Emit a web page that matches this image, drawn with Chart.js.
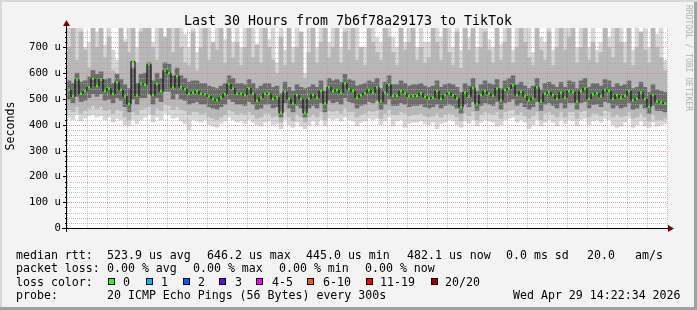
<!DOCTYPE html>
<html><head><meta charset="utf-8">
<script src="https://cdn.jsdelivr.net/npm/chart.js@4/dist/chart.umd.min.js"></script>
<style>html,body{margin:0;padding:0;background:#f3f3f3;}canvas{display:block;}</style>
</head><body>
<canvas id="c" width="697" height="310"></canvas>
<script>
const chartTitle = 'Last 30 Hours from 7b6f78a29173 to TikTok';
const yAxisTitle = 'Seconds';
const startHour = 8.4333;   // Tue 08:26
const endHour = 38.4333;    // Wed 14:26
const stepHours = 0.2;      // one slot per 12 minutes
const yMax = 775;
const yLabelValues = [0, 100, 200, 300, 400, 500, 600, 700];
const yLabelTexts = ['0', '100 u', '200 u', '300 u', '400 u', '500 u', '600 u', '700 u'];
const xLabelHours = [12, 18, 24, 30, 36];
const xLabelTexts = ['Tue 12:00', 'Tue 18:00', 'Wed 00:00', 'Wed 06:00', 'Wed 12:00'];

// median rtt (microseconds)
const median = [
535,510,575,520,530,545,578,550,575,531,
540,519,565,535,510,480,645,513,560,555,
634,515,558,530,610,600,545,588,545,538,
520,525,530,520,518,510,500,495,505,518,
558,540,520,520,515,540,520,492,505,520,
520,500,506,447,528,500,482,515,500,447,
500,516,505,530,482,545,530,535,525,560,
538,530,505,515,522,535,525,545,490,525,
555,512,512,530,523,510,512,512,522,508,
502,505,530,500,515,523,514,502,469,525,
510,543,480,515,530,520,512,540,495,535,
540,553,515,528,511,495,504,545,490,520,
527,515,500,525,505,530,527,490,530,540,
500,518,522,510,535,530,500,515,505,512,
530,495,500,525,500,470,515,490,487,482];

// dark smoke (pings close to the median)
const darkLow = [
500,485,510,490,495,505,520,510,520,495,
500,485,505,495,470,450,500,480,505,505,
520,480,505,490,530,530,500,520,500,495,
480,485,490,480,480,470,465,460,470,480,
500,490,480,480,475,490,480,460,465,480,
480,465,470,430,485,465,450,475,465,430,
465,475,465,485,450,495,485,490,480,505,
490,485,465,475,480,490,485,495,460,480,
500,475,475,485,480,470,475,475,480,470,
465,470,480,465,475,480,475,465,445,480,
470,490,455,475,485,480,475,490,460,485,
490,500,475,485,470,460,470,490,455,480,
485,475,465,485,465,485,485,460,485,490,
465,478,480,470,490,485,465,475,465,470,
485,460,465,480,465,445,475,455,455,450];
const darkHigh = [
570,560,600,565,570,585,610,595,605,575,
580,560,595,575,555,540,620,560,595,600,
640,570,600,580,640,635,590,620,590,580,
565,570,570,560,560,550,545,540,550,560,
590,580,560,560,555,575,560,540,550,560,
560,545,550,520,565,545,530,555,545,540,
545,555,545,570,530,580,570,575,565,595,
575,570,550,555,560,570,565,580,540,565,
590,555,555,570,560,550,555,555,560,550,
545,550,570,545,555,560,555,545,525,560,
550,580,530,555,570,560,555,575,540,570,
580,590,555,565,550,540,550,580,535,560,
565,555,545,565,545,570,565,540,570,580,
545,560,560,550,575,570,545,560,550,555,
570,540,545,565,545,525,555,535,530,525];

// medium smoke
const midLow = [
460,450,470,445,455,465,475,465,470,455,
460,445,460,455,430,420,450,440,460,465,
470,440,465,455,480,475,460,470,460,455,
440,450,450,440,445,430,425,420,430,440,
460,450,440,445,440,450,440,425,430,445,
445,430,435,410,450,430,415,440,430,410,
430,440,430,450,420,455,450,455,445,465,
450,450,430,440,445,455,450,455,425,445,
460,440,440,450,445,435,440,440,445,435,
430,435,445,430,440,445,440,430,415,445,
435,450,420,440,450,445,440,450,425,450,
455,460,440,450,435,425,435,450,420,445,
450,440,430,450,430,450,450,425,450,455,
430,445,445,435,455,450,430,440,430,435,
450,425,430,445,430,415,440,420,420,425];
const midHigh = [
700,790,650,760,690,620,790,700,790,660,
740,610,600,790,720,680,790,640,760,790,
790,700,650,790,740,790,680,790,700,640,
630,760,610,700,790,650,720,690,790,640,
790,660,720,630,700,790,660,710,640,790,
700,650,600,740,630,790,640,700,760,580,
680,790,640,720,790,660,700,790,640,760,
690,790,650,700,630,790,720,680,650,790,
740,680,630,790,690,720,790,650,700,640,
660,790,720,650,790,680,630,760,620,790,
690,790,640,700,760,690,640,790,650,720,
790,640,700,790,720,660,630,790,690,650,
760,630,700,790,690,740,790,640,700,790,
650,720,640,680,790,700,660,790,720,640,
790,630,700,760,690,640,790,700,660,610];

// light smoke (outermost pings)
const lightLow = [
430,420,440,415,425,435,440,430,435,420,
430,410,425,420,400,395,420,405,420,430,
440,410,430,420,445,440,425,430,415,405,
380,420,415,410,420,400,395,390,405,415,
430,420,410,415,405,420,410,400,395,410,
415,400,405,385,420,400,390,410,395,385,
400,415,400,420,395,425,420,425,415,430,
420,415,395,410,415,425,420,425,400,415,
430,395,415,420,390,405,410,410,415,405,
400,410,385,405,410,420,415,400,390,415,
405,420,395,410,420,415,410,395,400,420,
425,430,410,420,410,385,400,420,395,410,
420,410,395,420,405,420,415,395,420,425,
400,415,420,410,425,420,400,390,395,410,
425,390,400,415,395,390,410,395,400,405];
const lightHigh = [
790,740,790,790,700,720,790,760,790,710,
790,690,650,790,730,790,790,700,790,760,
790,720,790,790,740,790,790,700,790,750,
700,790,680,790,740,790,710,790,790,730,
790,720,790,700,790,750,790,710,790,790,
730,790,640,790,690,790,700,790,740,600,
790,740,700,790,790,720,790,790,700,790,
790,730,790,700,700,790,790,740,720,790,
790,740,700,790,720,790,790,700,790,720,
720,790,790,740,790,790,700,790,690,790,
740,790,700,790,790,730,700,790,710,790,
790,690,790,750,790,790,680,790,740,720,
790,690,790,740,790,790,720,700,790,790,
700,790,690,720,790,740,790,720,790,720,
790,690,790,740,790,700,790,750,790,650];

const legendRows = [
  [['median rtt:',16],['523.9 us avg',107],['646.2 us max',207],['445.0 us min',306],['482.1 us now',407],['0.0 ms sd',506],['20.0',587],['am/s',635]],
  [['packet loss:',16],['0.00 % avg',107],['0.00 % max',193],['0.00 % min',279],['0.00 % now',365]],
  [['loss color:',16]],
  [['probe:',16],['20 ICMP Echo Pings (56 Bytes) every 300s',107],['Wed Apr 29 14:22:34 2026',513]]
];
const lossLabels = ['0','1','2','3','4-5','6-10','11-19','20/20'];
const lossColors = ['#26ff00','#00b8ff','#0059ff','#6a00ff','#ff00ff','#ff5500','#ff0000','#a10000'];
const lossBoxX = [108,146,183,219,256,307,366,431];
const lossTextX = [123,161,198,235,272,323,380,445];

const slotHours = median.map((_, i) => startHour + stepHours * (i + 0.5));
const pts = arr => slotHours.map((h, i) => ({x: h, y: arr[i]}));
const band = (lo, hi, color, order) => ({
  type: 'bar', data: slotHours.map((h, i) => ({x: h, y: [lo[i], hi[i]]})),
  backgroundColor: color, borderWidth: 0, grouped: false, clip: 0,
  barThickness: 4, order
});

const MONO = '"DejaVu Sans Mono", monospace';

const rrdPlugin = {
  id: 'rrd',
  beforeDatasetsDraw(chart) {
    const {ctx, chartArea: a} = chart;
    ctx.save(); ctx.fillStyle = '#ffffff';
    ctx.fillRect(a.left, a.top, a.right - a.left, a.bottom - a.top);
    ctx.restore();
  },
  afterDatasetDraw(chart, args) {
    if (args.index !== 2) return; // after the darkest smoke, draw the grid
    const {ctx, chartArea: a, scales: {x, y}} = chart;
    ctx.save();
    ctx.lineWidth = 1;
    ctx.setLineDash([1, 1]);
    const vlines = (major) => x.ticks.forEach(t => {
      const isMajor = Math.abs(t.value / 3 - Math.round(t.value / 3)) < 1e-6;
      if (isMajor !== major) return;
      const px = Math.round(x.getPixelForValue(t.value)) + 0.5;
      ctx.beginPath(); ctx.moveTo(px, a.bottom); ctx.lineTo(px, a.top); ctx.stroke();
    });
    const hlines = (major) => y.ticks.forEach(t => {
      const isMajor = Math.abs(t.value / 100 - Math.round(t.value / 100)) < 1e-6;
      if (isMajor !== major || t.value === 0) return;
      const py = Math.round(y.getPixelForValue(t.value)) + 0.5;
      ctx.beginPath(); ctx.moveTo(a.left, py); ctx.lineTo(a.right, py); ctx.stroke();
    });
    ctx.strokeStyle = 'rgba(170,170,170,0.75)';
    vlines(false); hlines(false);
    ctx.strokeStyle = 'rgba(240,110,110,0.75)';
    vlines(true); hlines(true);
    ctx.restore();
  },
  afterDraw(chart) {
    const {ctx, chartArea: a, scales: {y}} = chart;
    ctx.save();
    // axes
    ctx.strokeStyle = '#000'; ctx.lineWidth = 1; ctx.setLineDash([]);
    ctx.beginPath(); ctx.moveTo(62, a.bottom + 0.5); ctx.lineTo(a.right + 2, a.bottom + 0.5); ctx.stroke();
    ctx.beginPath(); ctx.moveTo(a.left - 0.5, a.bottom + 4); ctx.lineTo(a.left - 0.5, a.top - 3); ctx.stroke();
    y.ticks.forEach(t => {
      const major = Math.abs(t.value / 100 - Math.round(t.value / 100)) < 1e-6;
      const py = Math.round(y.getPixelForValue(t.value)) + 0.5;
      ctx.beginPath(); ctx.moveTo(a.left - (major ? 4 : 2), py); ctx.lineTo(a.left, py); ctx.stroke();
    });
    ctx.fillStyle = '#800000';
    ctx.beginPath(); ctx.moveTo(a.left - 4, a.top - 2); ctx.lineTo(a.left + 3, a.top - 2); ctx.lineTo(a.left - 0.5, a.top - 8); ctx.closePath(); ctx.fill();
    ctx.beginPath(); ctx.moveTo(a.right + 1, a.bottom - 3); ctx.lineTo(a.right + 1, a.bottom + 4); ctx.lineTo(a.right + 7, a.bottom + 0.5); ctx.closePath(); ctx.fill();

    // y tick labels (from the y scale)
    ctx.fillStyle = '#000';
    ctx.font = '10.6px ' + MONO; ctx.textAlign = 'right'; ctx.textBaseline = 'middle';
    yLabelValues.forEach((v, i) => ctx.fillText(yLabelTexts[i], 61, Math.round(y.getPixelForValue(v)) + 0.5));

    // title
    ctx.font = '13.3px ' + MONO; ctx.textAlign = 'center'; ctx.textBaseline = 'alphabetic';
    ctx.fillText(chartTitle, 348, 25);
    // y title
    ctx.save(); ctx.translate(11, 126); ctx.rotate(-Math.PI / 2);
    ctx.font = '11.6px ' + MONO; ctx.textAlign = 'center'; ctx.textBaseline = 'middle';
    ctx.fillText(yAxisTitle, 0, 0); ctx.restore();
    // side credit
    ctx.save(); ctx.translate(688, 5); ctx.rotate(Math.PI / 2);
    ctx.font = '8px ' + MONO; ctx.textAlign = 'left'; ctx.textBaseline = 'middle'; ctx.fillStyle = '#b0b0b0';
    ctx.fillText('RRDTOOL / TOBI OETIKER', 0, 0); ctx.restore();
    // legend
    ctx.font = '11.6px ' + MONO; ctx.textAlign = 'left'; ctx.textBaseline = 'alphabetic'; ctx.fillStyle = '#000';
    const baselines = [258.5, 272, 285.7, 299.3];
    legendRows.forEach((row, r) => row.forEach(([s, x]) => ctx.fillText(s, x, baselines[r])));
    lossLabels.forEach((lab, i) => {
      ctx.fillStyle = lossColors[i];
      ctx.fillRect(lossBoxX[i], 278, 7, 7);
      ctx.strokeStyle = '#000'; ctx.lineWidth = 1;
      ctx.strokeRect(lossBoxX[i] + 0.5, 278.5, 6, 6);
      ctx.fillStyle = '#000';
      ctx.fillText(lab, lossTextX[i], baselines[2]);
    });
    // frame
    ctx.fillStyle = '#a0a0a0';
    ctx.fillRect(0, 307, 697, 3); ctx.fillRect(694, 0, 3, 310);
    ctx.fillStyle = '#d8d8d8';
    ctx.fillRect(0, 0, 697, 2); ctx.fillRect(0, 0, 2, 307);
    ctx.restore();
  }
};

new Chart(document.getElementById('c'), {
  type: 'bar',
  data: {
    datasets: [
      {type: 'line', data: pts(median), showLine: false, pointStyle: 'rect', pointRadius: 1.7, pointBackgroundColor: '#33ff00', pointBorderWidth: 0, order: 1},
      {type: 'line', data: pts(median), stepped: 'middle', borderColor: '#000', borderWidth: 1, pointRadius: 0, order: 2},
      band(darkLow, darkHigh, '#6c6c6c', 3),
      band(midLow, midHigh, '#b8b8b8', 4),
      band(lightLow, lightHigh, '#d6d6d6', 5)
    ]
  },
  options: {
    responsive: false, animation: false, devicePixelRatio: 1,
    layout: {padding: {left: 0, right: 30, top: 28, bottom: 0}},
    plugins: {legend: {display: false}, tooltip: {enabled: false}, title: {display: false}},
    scales: {
      x: {
        type: 'linear', min: startHour, max: endHour, offset: false,
        grid: {display: false, drawTicks: false}, border: {display: false},
        afterFit: s => { s.height = 82; },
        ticks: {
          stepSize: 1, includeBounds: false, autoSkip: false, maxRotation: 0, padding: 3,
          color: '#000', font: {family: MONO, size: 10.6},
          callback: v => { const k = xLabelHours.findIndex(h => Math.abs(h - v) < 1e-6); return k >= 0 ? xLabelTexts[k] : ''; }
        }
      },
      y: {
        type: 'linear', min: 0, max: yMax,
        grid: {display: false, drawTicks: false}, border: {display: false},
        afterFit: s => { s.width = 67; },
        ticks: {stepSize: 20, includeBounds: false, autoSkip: false, display: false}
      }
    }
  },
  plugins: [rrdPlugin]
});
</script>
</body></html>
